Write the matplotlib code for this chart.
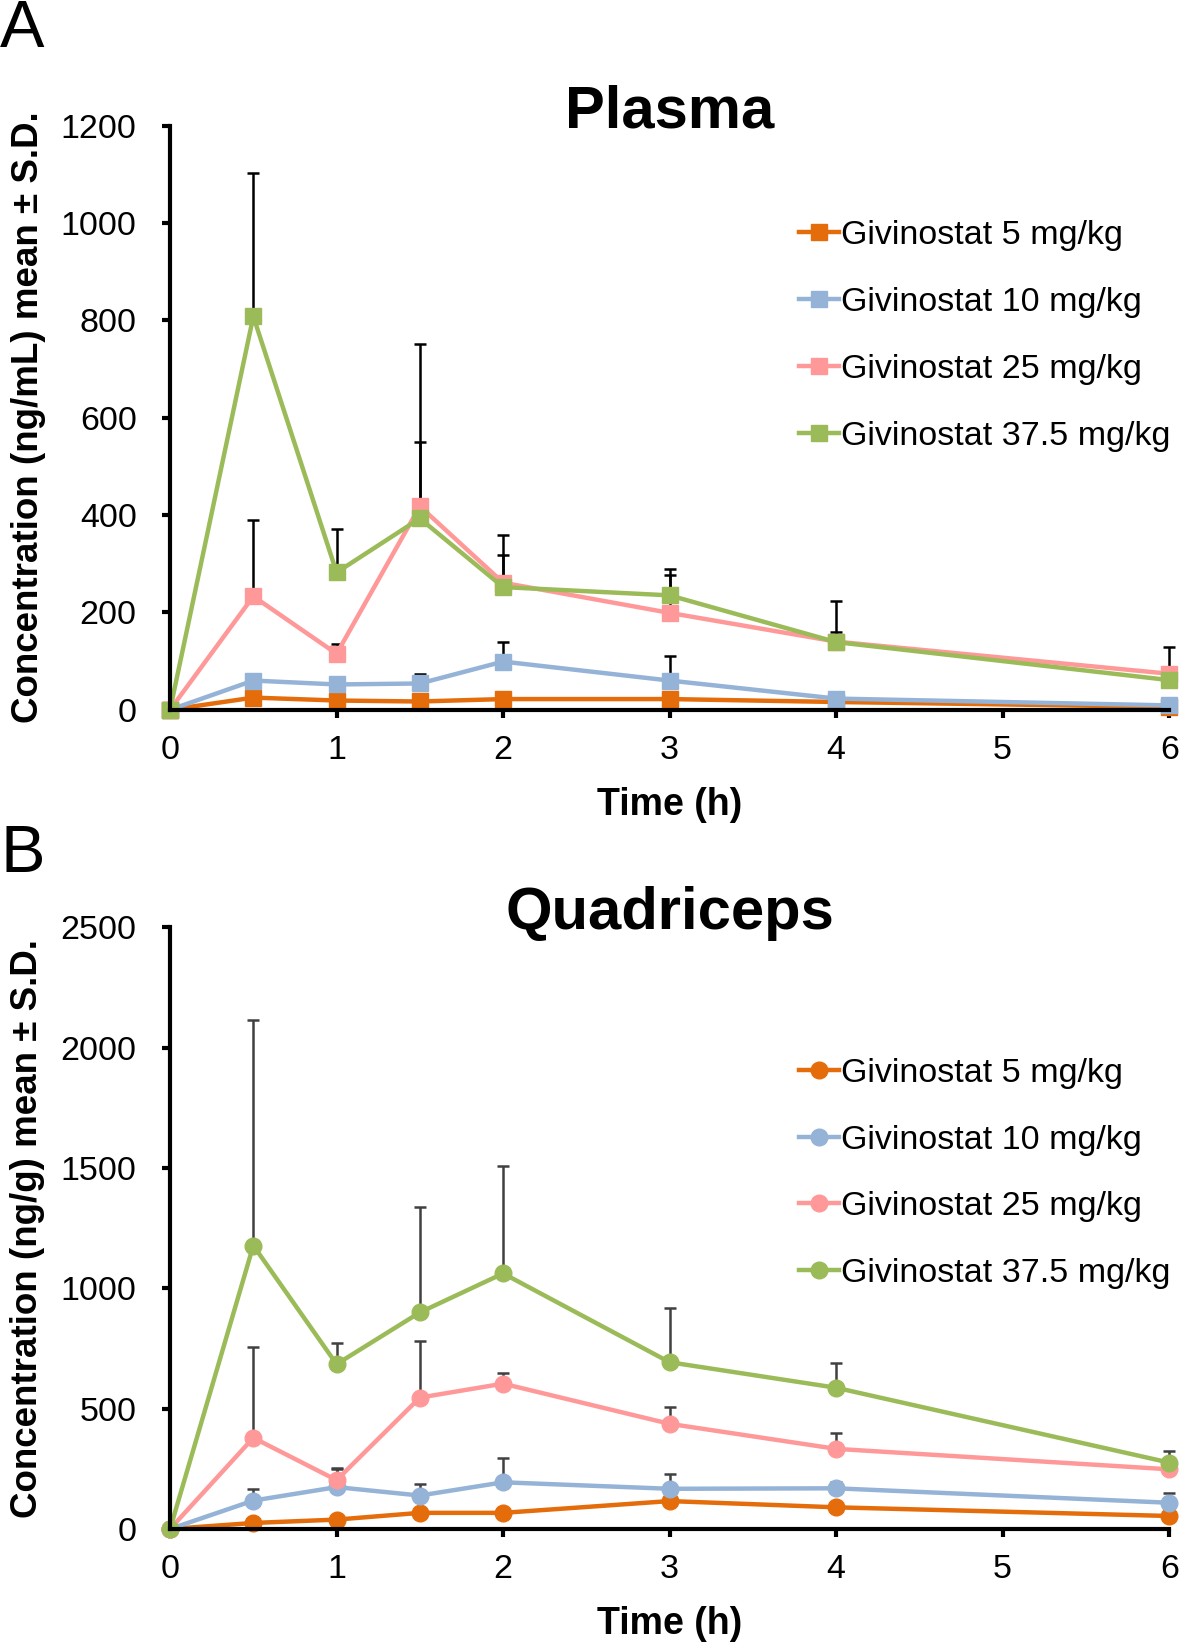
import numpy as np
import matplotlib
matplotlib.use('Agg')
from matplotlib import pyplot as plt

plt.rcParams['font.family'] = ['Liberation Sans', 'DejaVu Sans']

# sampling times (h)
time_h = [0, 0.5, 1, 1.5, 2, 3, 4, 6]
labels = ['Givinostat 5 mg/kg', 'Givinostat 10 mg/kg',
          'Givinostat 25 mg/kg', 'Givinostat 37.5 mg/kg']
colors = ['#E46C0A', '#95B3D7', '#FF9999', '#9BBB59']

# plasma, ng/mL (mean, SD)
plasma_5 = [0, 25, 19, 17, 22, 22, 16, 6]
plasma_5_sd = [0, 4, 3, 3, 4, 4, 3, 2]
plasma_10 = [0, 60, 52, 54, 99, 60, 23, 9]
plasma_10_sd = [0, 10, 8, 19, 41, 50, 5, 3]
plasma_25 = [0, 233, 115, 418, 261, 199, 140, 74]
plasma_25_sd = [0, 157, 21, 132, 57, 77, 20, 54]
plasma_37 = [0, 808, 282, 393, 252, 235, 139, 61]
plasma_37_sd = [0, 295, 89, 359, 107, 55, 84, 4]

# quadriceps, ng/g (mean, SD)
quad_5 = [0, 25, 39, 67, 67, 116, 90, 54]
quad_5_sd = [0, 5, 5, 8, 8, 10, 8, 5]
quad_10 = [0, 118, 174, 139, 194, 167, 169, 109]
quad_10_sd = [0, 49, 76, 46, 102, 62, 28, 39]
quad_25 = [0, 379, 203, 546, 604, 437, 333, 248]
quad_25_sd = [0, 378, 51, 236, 43, 70, 65, 20]
quad_37 = [0, 1178, 685, 900, 1062, 693, 587, 276]
quad_37_sd = [0, 939, 87, 440, 446, 224, 104, 48]


def draw_panel(ax, means, sds, marker, ecolor, title, ylabel, ymax, ystep,
               leg_y):
    for m, s, c, lab in zip(means, sds, colors, labels):
        m = np.array(m)
        s = np.array(s)
        ax.errorbar(time_h, m, yerr=[np.zeros_like(s), s], color=c,
                    ecolor=ecolor, elinewidth=1.8, capsize=4, capthick=1.8,
                    lw=3.2, marker=marker, ms=12, mfc=c, mec=c,
                    label=lab, clip_on=False)
    ax.set_xlim(0, 6)
    ax.set_ylim(0, ymax)
    ax.set_xticks(range(7))
    ax.set_yticks(np.arange(0, ymax + 1, ystep))
    for side in ['top', 'right']:
        ax.spines[side].set_visible(False)
    for side in ['left', 'bottom']:
        ax.spines[side].set_linewidth(3)
    ax.tick_params(width=3, length=6, labelsize=24.5)
    ax.tick_params(axis='y', pad=18)
    ax.tick_params(axis='x', pad=12)
    ax.set_xlabel('Time (h)', fontsize=27, fontweight='bold', labelpad=15)
    ax.set_ylabel(ylabel, fontsize=26.5, fontweight='bold', labelpad=11)
    ax.text(0.5, 0.997, title, transform=ax.transAxes, fontsize=43,
            fontweight='bold', ha='center', va='baseline')
    handles, labs = ax.get_legend_handles_labels()
    handles = [h[0] for h in handles]
    ax.legend(handles, labs, loc='upper right', bbox_to_anchor=(1.015, leg_y),
              frameon=False, fontsize=24.5, handlelength=1.2,
              handletextpad=0.05, labelspacing=1.05, borderaxespad=0)


fig = plt.figure(figsize=(11.81, 16.43), dpi=100)
ax1 = fig.add_axes([0.144, 0.568, 0.846, 0.3556])
ax2 = fig.add_axes([0.144, 0.0694, 0.846, 0.3661])

draw_panel(ax1, [plasma_5, plasma_10, plasma_25, plasma_37],
           [plasma_5_sd, plasma_10_sd, plasma_25_sd, plasma_37_sd],
           's', 'black', 'Plasma', 'Concentration (ng/mL) mean \u00b1 S.D.',
           1200, 200, 0.861)
draw_panel(ax2, [quad_5, quad_10, quad_25, quad_37],
           [quad_5_sd, quad_10_sd, quad_25_sd, quad_37_sd],
           'o', '#404040', 'Quadriceps', 'Concentration (ng/g) mean \u00b1 S.D.',
           2500, 500, 0.806)

fig.text(0.0, 0.9714, 'A', fontsize=48, va='baseline', ha='left')
fig.text(0.0, 0.4693, 'B', fontsize=48, va='baseline', ha='left')

fig.savefig('out.png', dpi=100)
